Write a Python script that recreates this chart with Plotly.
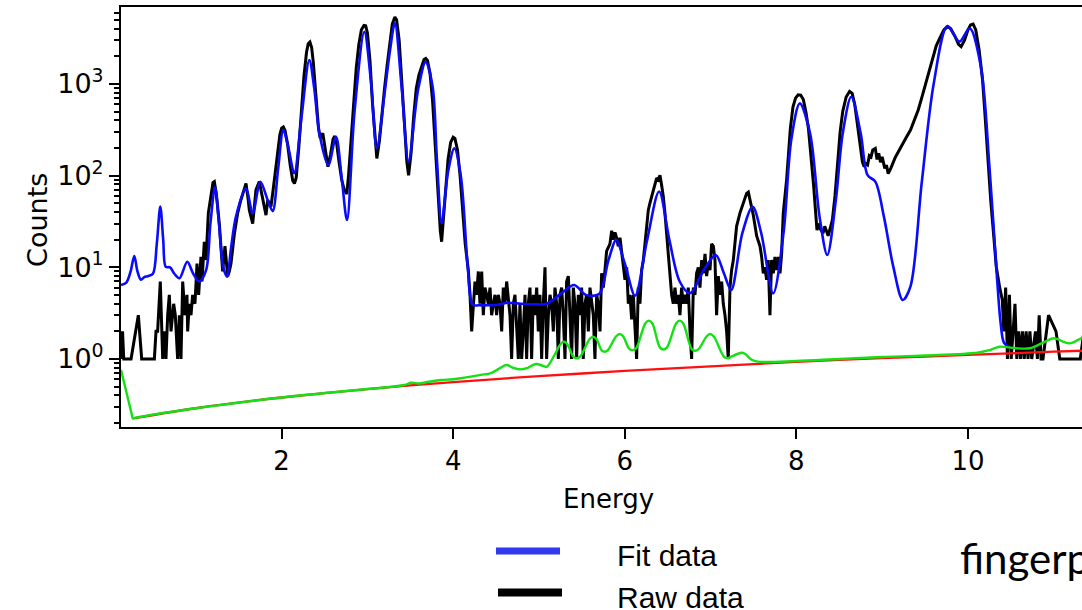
import plotly.graph_objects as go

# ---------------- data ----------------
raw_energy = [
    0.128, 0.137, 0.146, 0.16, 0.245, 0.33, 0.369, 0.517, 0.536, 0.555, 0.586, 0.614, 0.633, 0.652,
    0.672, 0.691, 0.711, 0.742, 0.761, 0.788, 0.808, 0.827, 0.847, 0.874, 0.897, 0.905, 0.924, 0.944,
    0.963, 0.99, 1.014, 1.033, 1.06, 1.072, 1.099, 1.119, 1.146, 1.177, 1.20, 1.216, 1.24, 1.274,
    1.294, 1.313, 1.34, 1.371, 1.39, 1.41, 1.449, 1.488, 1.52, 1.546, 1.585, 1.61, 1.624, 1.663,
    1.701, 1.74, 1.779, 1.818, 1.838, 1.876, 1.896, 1.93, 1.954,
    1.98, 2.00, 2.02, 2.04, 2.07, 2.10, 2.13, 2.15, 2.17, 2.20, 2.23, 2.26, 2.29, 2.31, 2.33, 2.35,
    2.37, 2.40, 2.43, 2.45, 2.48, 2.51, 2.54, 2.57, 2.60, 2.62, 2.64, 2.67, 2.70, 2.73, 2.76, 2.78,
    2.81, 2.84, 2.87, 2.90, 2.93, 2.96, 2.98, 3.00, 3.03, 3.06, 3.09, 3.11, 3.14, 3.17, 3.20, 3.23,
    3.26, 3.29, 3.32, 3.34, 3.37, 3.40, 3.43, 3.46, 3.48, 3.51, 3.54, 3.57, 3.60, 3.63, 3.66, 3.68,
    3.70, 3.73, 3.76, 3.79, 3.82, 3.85, 3.865, 3.88, 3.91, 3.94, 3.97, 4.00, 4.02, 4.05, 4.08, 4.11,
    4.14, 4.176,
    4.196, 4.215, 4.234, 4.254, 4.273, 4.293, 4.312, 4.332, 4.351, 4.370, 4.390, 4.409, 4.429, 4.448,
    4.468, 4.487, 4.506, 4.526, 4.545, 4.565, 4.584, 4.604, 4.623, 4.642, 4.662, 4.681, 4.701, 4.720,
    4.739, 4.759, 4.778, 4.798, 4.817, 4.837, 4.856, 4.875, 4.895, 4.914, 4.934, 4.953, 4.973, 4.992,
    5.011, 5.031, 5.050, 5.070, 5.089, 5.109, 5.128, 5.147, 5.167, 5.186, 5.206, 5.225, 5.245, 5.264,
    5.283, 5.303, 5.322, 5.342, 5.361, 5.380, 5.400, 5.419, 5.439, 5.458, 5.478, 5.497, 5.516, 5.536,
    5.555, 5.575, 5.594, 5.614, 5.633, 5.652, 5.672, 5.691, 5.711, 5.730, 5.750, 5.769, 5.788, 5.827,
    5.847, 5.866, 5.886, 5.905, 5.924, 5.944, 5.983, 6.002, 6.022, 6.041, 6.060, 6.080, 6.099, 6.119,
    6.138, 6.157, 6.177, 6.196, 6.216, 6.235, 6.255, 6.274, 6.293, 6.332, 6.371, 6.391, 6.410, 6.429,
    6.449, 6.468, 6.488, 6.507, 6.527, 6.546, 6.565, 6.585, 6.604, 6.624, 6.643, 6.662, 6.682, 6.701,
    6.721, 6.740, 6.760, 6.779, 6.799, 6.818, 6.837, 6.857, 6.876, 6.896, 6.915, 6.935, 6.954, 6.973,
    6.993, 7.012, 7.032, 7.051, 7.070, 7.090, 7.109, 7.129, 7.148, 7.168, 7.187, 7.206, 7.226, 7.245,
    7.265, 7.284, 7.303, 7.342, 7.381, 7.420, 7.440, 7.459, 7.498, 7.537, 7.576, 7.595, 7.614, 7.634,
    7.653, 7.672, 7.692, 7.711, 7.731, 7.750, 7.770, 7.789, 7.809, 7.828, 7.847, 7.886, 7.906,
    7.93, 7.96, 7.99, 8.02, 8.05, 8.08, 8.11, 8.14, 8.17, 8.20, 8.22, 8.24, 8.26, 8.28, 8.31, 8.33,
    8.35, 8.37, 8.40, 8.42, 8.45, 8.48, 8.51, 8.54, 8.58, 8.62, 8.65, 8.68, 8.71, 8.74, 8.77, 8.79,
    8.81, 8.83, 8.85, 8.87, 8.89, 8.92, 8.94, 8.96, 8.98, 9.00, 9.03, 9.05, 9.07, 9.10, 9.13, 9.155,
    9.20, 9.24, 9.28, 9.33, 9.38, 9.42, 9.46, 9.505, 9.55, 9.59, 9.63, 9.68, 9.72, 9.765, 9.80, 9.85,
    9.89, 9.92, 9.96, 10.00, 10.03, 10.06, 10.09, 10.13, 10.17, 10.20, 10.23, 10.265, 10.30, 10.33,
    10.37, 10.40, 10.417, 10.439, 10.46, 10.483, 10.504, 10.548, 10.569, 10.591, 10.613, 10.635,
    10.656, 10.678, 10.70, 10.722, 10.743, 10.787, 10.809, 10.83, 10.852, 10.874, 10.939, 11.026,
    11.07, 11.309, 11.352, 11.40,
]
raw_counts = [
    2, 1, 2, 1, 1, 3, 1, 1, 2, 2, 7, 1, 2, 1,
    3, 5, 2, 4, 3, 1, 3, 1, 7, 3, 5, 2, 4, 3,
    5, 4, 11, 5, 13, 7, 19, 12, 39, 65, 84, 86, 62, 30,
    14, 9, 17, 8, 9, 11, 23, 39, 52, 64, 82, 55, 42, 30,
    70, 86, 56, 37, 54, 46, 64, 120, 190,
    280, 330, 340, 310, 220, 130, 88, 82, 95, 200, 520, 1200, 2200, 2750, 2870, 2500,
    1700, 750, 330, 255, 290, 190, 125, 170, 250, 270, 230, 140, 90, 70, 63, 100,
    250, 650, 1500, 2700, 3900, 4350, 4300, 3600, 1800, 600, 230, 154, 240, 500, 900, 1600,
    2900, 4500, 5350, 5000, 3000, 1100, 350, 140, 101, 180, 450, 900, 1250, 1550, 1850, 1900,
    1800, 1300, 650, 220, 70, 25, 19, 28, 75, 150, 230, 262, 255, 190, 100, 45,
    18, 9.3,
    5, 2, 4, 7, 5, 9, 4, 9, 3, 6, 5, 4, 6, 3,
    4, 5, 3, 5, 4, 2, 6, 4, 7, 5, 3, 1, 4, 5,
    2, 1, 4, 1, 2, 5, 1, 4, 6, 1, 5, 3, 6, 2,
    5, 1, 4, 10, 1, 3, 5, 4, 2, 6, 4, 1, 5, 6,
    3, 1, 7, 8, 3, 1, 6, 4, 1, 5, 3, 6, 1, 4,
    5, 2, 6, 4, 3, 1, 5, 4, 2, 8.6, 6, 9.3, 15, 18,
    25, 20, 24, 21, 17, 21, 9.3, 7.3, 10, 4, 5, 2.7, 5, 2,
    1, 6, 4, 9.3, 12, 18, 28, 42, 50, 70, 94, 90, 101, 79,
    59, 39, 22, 15, 7.3, 5, 4, 6, 4, 5, 3, 6, 4, 5,
    4, 6, 2, 1, 6, 5, 8.6, 10, 6, 12, 8.6, 14, 8, 11,
    9.3, 18, 17, 12, 3, 8, 5, 7, 4, 3, 2, 1, 6, 9.3,
    12, 18, 28, 39, 50, 64, 66, 55, 37, 22, 17, 13, 8.6, 10,
    7.3, 12, 3, 12, 8.6, 13, 9.3, 13, 8.6, 14, 39, 90, 150,
    330, 560, 700, 760, 753, 680, 500, 330, 170, 80, 45, 25.5, 30, 26, 23.5, 28,
    25, 22, 28, 33, 60, 140, 300, 500, 720, 830, 790, 600, 380, 220, 140, 125,
    135, 131, 165, 160, 190, 198, 150, 175, 140, 160, 120, 130, 105, 120, 140, 160,
    190, 225, 260, 314, 420, 520, 700, 1000, 1450, 1980, 2600, 3280, 3900, 4220, 4000, 3280,
    2700, 2550, 3000, 3900, 4400, 4500, 3900, 2350, 1100, 440, 150, 54, 22, 10.1,
    6, 4.4, 2, 6, 1, 5, 1, 4, 1, 2, 1, 2,
    1, 2, 1, 2, 1, 2, 1, 3, 1, 1, 3, 2,
    1, 1, 2, 2,
]

fit_energy = [
    0.128, 0.19, 0.24, 0.283, 0.32, 0.36, 0.40, 0.44, 0.50, 0.545, 0.586, 0.62, 0.65, 0.70, 0.75,
    0.81, 0.90, 0.97, 1.04, 1.12, 1.17, 1.224, 1.27, 1.32, 1.364, 1.41, 1.468, 1.585, 1.663, 1.752,
    1.838, 1.896, 1.96, 2.02, 2.08, 2.148, 2.23, 2.323, 2.38, 2.44, 2.544, 2.634, 2.70, 2.762, 2.85,
    2.964, 3.04, 3.11, 3.20, 3.26, 3.32, 3.40, 3.48, 3.59, 3.68, 3.76, 3.81, 3.865, 3.94, 4.013,
    4.09, 4.17, 4.227, 4.30, 4.40, 4.52, 4.635, 4.79, 4.95, 5.09, 5.26, 5.41, 5.545, 5.70, 5.81,
    5.90, 6.0, 6.12, 6.26, 6.40, 6.52, 6.64, 6.76, 6.92, 7.06, 7.155, 7.24, 7.37, 7.49, 7.59, 7.73,
    7.85, 7.94, 8.04, 8.16, 8.27, 8.36, 8.46, 8.54, 8.64, 8.75, 8.83, 8.92, 9.02, 9.13, 9.24, 9.33,
    9.46, 9.60, 9.76, 9.90, 10.02, 10.15, 10.25, 10.33, 10.38, 10.42, 10.48,
]
fit_counts = [
    6.4, 6.8, 9, 13.3, 9, 7.3, 7.8, 8, 8.5, 18, 45.9, 20, 10.1, 10, 8.5,
    7.6, 11.5, 8.5, 7, 9.3, 30, 75, 30, 10, 7.9, 16, 35.7, 72.6, 38.8, 85.8,
    54, 41, 120, 314, 200, 106, 420, 1820, 900, 290, 130, 265, 95, 32.8, 500,
    3700, 1100, 198, 790, 2200, 4570, 900, 142, 858, 1740, 935, 150, 30, 110, 198,
    97, 10, 3.9, 3.85, 3.85, 3.9, 4.1, 4.0, 3.95, 4.0, 5.2, 6.4, 5.0, 5.1, 12,
    19.8, 11, 4.9, 19.8, 67, 19.8, 7, 5.2, 9.3, 13.6, 8.6, 5.65, 23.6, 45.8, 23.6, 5.2,
    23.6, 245, 613, 288, 35.7, 13.6, 54, 288, 725, 288, 101, 86, 35.7, 10.1, 4.4, 6.2,
    82, 1000, 4270, 2890, 4040, 1550, 125, 10, 2.5, 1.5, 1.35,
]

bg_energy = [0.264, 1, 2, 3, 4, 5, 6, 7, 8, 9, 10, 11, 11.45]
bg_counts = [0.225, 0.29, 0.38, 0.47, 0.56, 0.65, 0.74, 0.83, 0.93, 1.02, 1.11, 1.20, 1.24]

sum_energy = [
    0.128, 0.262, 0.264, 0.266, 1, 2, 3, 3.43, 3.51, 3.60, 3.70, 3.86, 4.0, 4.15, 4.32, 4.44, 4.53,
    4.62, 4.70, 4.785, 4.87, 4.96, 5.05, 5.09, 5.18, 5.25, 5.29, 5.33, 5.40, 5.44, 5.48, 5.59,
    5.63, 5.67, 5.73, 5.765, 5.80, 5.90, 5.94, 5.98, 6.05, 6.09, 6.13, 6.24, 6.28, 6.32, 6.41,
    6.45, 6.49, 6.60, 6.64, 6.68, 6.78, 6.82, 6.86, 6.955, 6.995, 7.035, 7.16, 7.20, 7.24, 7.32,
    7.36, 7.40, 7.48, 7.55, 8.0, 8.5, 9.0, 9.5, 10.11, 10.25, 10.37, 10.55, 10.72, 10.87,
    11.0, 11.18, 11.36, 11.45,
]
sum_counts = [
    0.76, 0.23, 0.225, 0.2252, 0.29, 0.38, 0.47, 0.52, 0.55, 0.54, 0.56, 0.59, 0.60, 0.63, 0.67,
    0.70, 0.78, 0.86, 0.80, 0.77, 0.80, 0.88, 0.84, 0.82, 1.1, 1.45, 1.55, 1.45, 1.06, 1.02, 1.06, 1.65,
    1.75, 1.65, 1.24, 1.2, 1.24, 1.77, 1.87, 1.77, 1.3, 1.25, 1.3, 2.45, 2.62, 2.45, 1.33,
    1.27, 1.33, 2.45, 2.62, 2.45, 1.28, 1.23, 1.28, 1.77, 1.87, 1.77, 1.05, 1.02, 1.06, 1.14,
    1.17, 1.14, 0.98, 0.935, 0.95, 1.0, 1.05, 1.09, 1.17, 1.25, 1.36, 1.31, 1.31, 1.5,
    1.68, 1.48, 1.75, 1.8,
]

y_tick_vals = [1, 10, 100, 1000]
y_tick_text = ["10<sup>0</sup>", "10<sup>1</sup>", "10<sup>2</sup>", "10<sup>3</sup>"]
y_minor_vals = [0.2, 0.3, 0.4, 0.5, 0.6, 0.7, 0.8, 0.9,
                2, 3, 4, 5, 6, 7, 8, 9, 20, 30, 40, 50, 60, 70, 80, 90,
                200, 300, 400, 500, 600, 700, 800, 900, 2000, 3000, 4000, 5000, 6000]
x_tick_vals = [2, 4, 6, 8, 10]

# ---------------- figure ----------------
fig = go.Figure()
fig.add_trace(go.Scatter(x=raw_energy, y=raw_counts, mode="lines", name="Raw data",
                         line=dict(color="black", width=3), showlegend=False))
fig.add_trace(go.Scatter(x=fit_energy, y=fit_counts, mode="lines", name="Fit data",
                         line=dict(color="#0a0aff", width=2.6, shape="spline", smoothing=0.9),
                         showlegend=False))
fig.add_trace(go.Scatter(x=bg_energy, y=bg_counts, mode="lines", name="Background",
                         line=dict(color="#ff1010", width=2.3, shape="spline", smoothing=0.6),
                         showlegend=False))
fig.add_trace(go.Scatter(x=sum_energy, y=sum_counts, mode="lines", name="Background + pile-up",
                         line=dict(color="#14e014", width=2.4, shape="spline", smoothing=1.0),
                         showlegend=False))

font_main = "DejaVu Sans"
fig.update_layout(
    width=1082, height=610,
    margin=dict(l=121, r=0, t=7, b=183),
    paper_bgcolor="white", plot_bgcolor="white",
    font=dict(family=font_main, size=27, color="black"),
    showlegend=False,
    xaxis=dict(range=[0.128, 11.329], tickvals=x_tick_vals, ticks="outside", ticklen=10,
               tickwidth=2, tickcolor="black", showline=True, linecolor="black", linewidth=2,
               mirror=True, showgrid=False, zeroline=False,
               tickfont=dict(family=font_main, size=26)),
    yaxis=dict(type="log", range=[-0.742, 3.839], tickvals=y_tick_vals, ticktext=y_tick_text,
               ticks="outside", ticklen=10, tickwidth=2, tickcolor="black",
               showline=True, linecolor="black", linewidth=2, mirror=False,
               showgrid=False, zeroline=False, tickfont=dict(family=font_main, size=27),
               minor=dict(tickvals=y_minor_vals, ticks="outside", ticklen=5, tickwidth=1.5,
                          tickcolor="black", showgrid=False)),
)

# axis titles
fig.add_annotation(text="Energy", xref="paper", yref="paper", x=0.5068, y=-0.171,
                   xanchor="center", yanchor="middle", showarrow=False,
                   font=dict(family=font_main, size=26))
fig.add_annotation(text="Counts", xref="paper", yref="paper", x=-0.0864, y=0.493,
                   xanchor="center", yanchor="middle", showarrow=False, textangle=-90,
                   font=dict(family=font_main, size=27))

# legend (drawn by hand, as in the reference)
legend_font = "Liberation Sans"
fig.add_shape(type="line", xref="paper", yref="paper", x0=0.3902, x1=0.4568, y0=-0.2952, y1=-0.2952,
              line=dict(color="#3038f0", width=7))
fig.add_shape(type="line", xref="paper", yref="paper", x0=0.3923, x1=0.4589, y0=-0.394, y1=-0.394,
              line=dict(color="black", width=8))
fig.add_annotation(text="Fit data", xref="paper", yref="paper", x=0.514, y=-0.305,
                   xanchor="left", yanchor="middle", showarrow=False,
                   font=dict(family=legend_font, size=30))
fig.add_annotation(text="Raw data", xref="paper", yref="paper", x=0.514, y=-0.405,
                   xanchor="left", yanchor="middle", showarrow=False,
                   font=dict(family=legend_font, size=30))
fig.add_annotation(text="fingerp", xref="paper", yref="paper", x=0.871, y=-0.312,
                   xanchor="left", yanchor="middle", showarrow=False,
                   font=dict(family="Lato", size=42))

fig.write_html("out.html", config={"displayModeBar": False},
               post_script="document.body.style.margin='0px';document.body.style.padding='0px';"
                           "document.documentElement.style.overflow='hidden';")
